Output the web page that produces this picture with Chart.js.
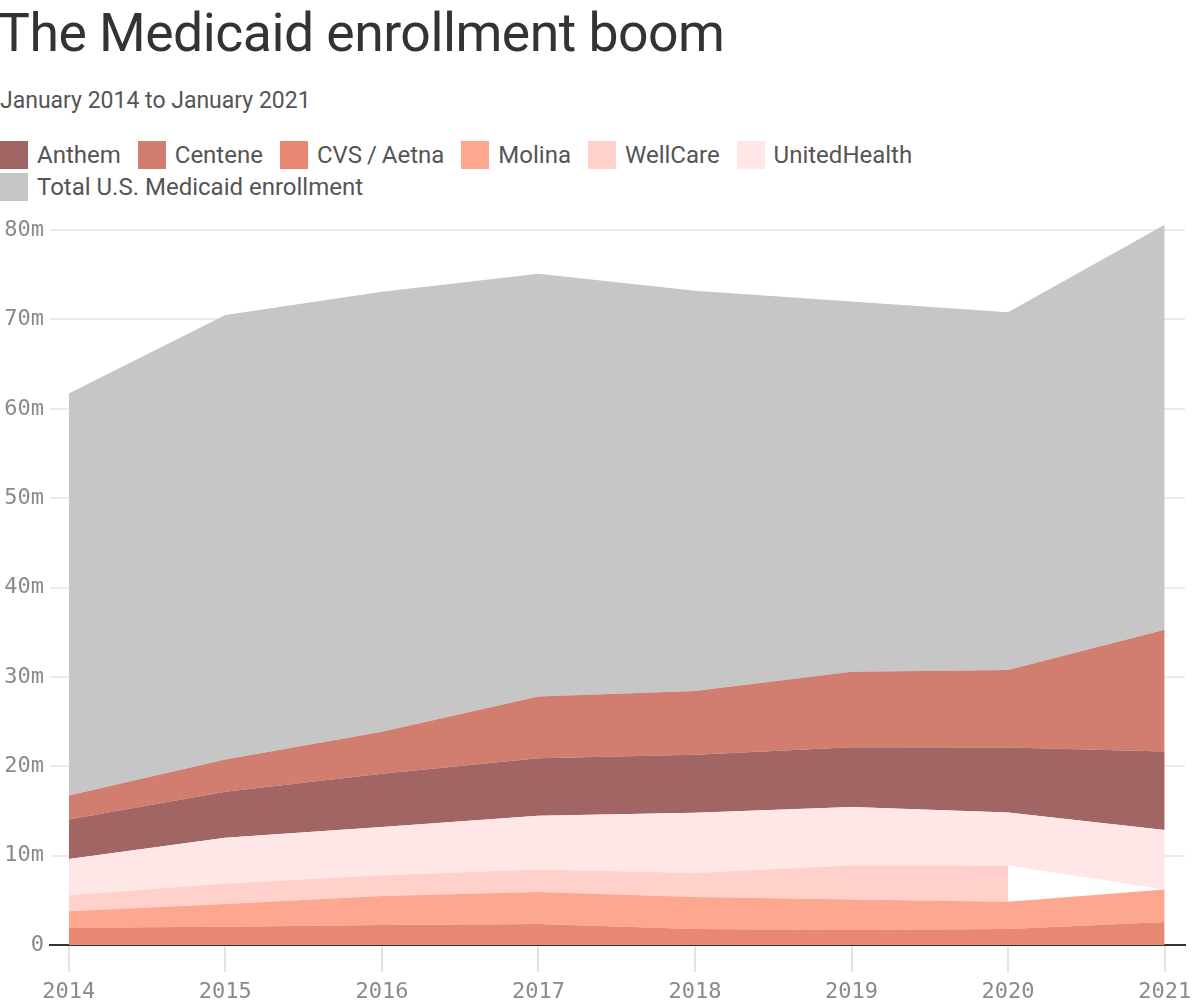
<!DOCTYPE html>
<html>
<head>
  <meta charset="utf-8" />
  <title>The Medicaid enrollment boom</title>
  <script src="https://cdn.jsdelivr.net/npm/chart.js"></script>
  <style>
    body { margin: 0; background: #fff; font-family: Roboto, "Noto Sans", sans-serif; }
    .wrap { position: relative; width: 1200px; height: 1000px; overflow: hidden; }
    h1 { position: absolute; left: -2px; top: 1px; margin: 0; font-size: 53.5px; font-weight: 400; color: #333; line-height: 64px; letter-spacing: -0.5px; }
    .sub { position: absolute; left: 0; top: 87px; font-size: 23px; color: #555; line-height: 28px; }
    .legend { position: absolute; left: 0; top: 141px; font-size: 24px; color: #555; }
    .row { display: flex; height: 32px; }
    .item { display: flex; align-items: center; margin-right: 17px; height: 28px; }
    .box { width: 28px; height: 28px; margin-right: 9px; }
    canvas { position: absolute; left: 0; top: 193px; }
  </style>

  <script type="module">
    const years = [2014, 2015, 2016, 2017, 2018, 2019, 2020, 2021];

    // millions of enrollees, January of each year
    const cvsAetna     = [1.93, 2.04, 2.23, 2.34, 1.78, 1.67, 1.79, 2.57];
    const molina       = [1.86, 2.54, 3.24, 3.58, 3.58, 3.43, 3.04, 3.65];
    const wellCare     = [1.79, 2.30, 2.34, 2.53, 2.71, 3.83, 4.06, 0];
    const unitedHealth = [4.05, 5.12, 5.39, 6.00, 6.73, 6.51, 5.95, 6.65];
    const anthem       = [4.40, 5.15, 5.96, 6.45, 6.50, 6.69, 7.26, 8.78];
    const centene      = [2.71, 3.61, 4.69, 6.90, 7.12, 8.45, 8.67, 13.62];
    const totalMedicaid = [61.7, 70.5, 73.1, 75.1, 73.2, 72.0, 70.8, 80.6];

    const yTicks = [0, 10, 20, 30, 40, 50, 60, 70, 80];

    const colors = {
      anthem: '#a16563',
      centene: '#d17d6f',
      cvs: '#e88873',
      molina: '#fda790',
      wellcare: '#ffd1ca',
      united: '#fee7e6',
      total: '#c6c6c6'
    };

    const legendItems = [
      ['Anthem', colors.anthem],
      ['Centene', colors.centene],
      ['CVS\u2009/\u2009Aetna', colors.cvs],
      ['Molina', colors.molina],
      ['WellCare', colors.wellcare],
      ['UnitedHealth', colors.united],
      ['Total U.S. Medicaid enrollment', colors.total]
    ];

    // build html legend (two rows like the original)
    const legend = document.getElementById('legend');
    let row;
    legendItems.forEach((it, i) => {
      if (i === 0 || i === 6) {
        row = document.createElement('div');
        row.className = 'row';
        legend.appendChild(row);
      }
      const item = document.createElement('div');
      item.className = 'item';
      item.innerHTML = `<span class="box" style="background:${it[1]}"></span><span>${it[0]}</span>`;
      row.appendChild(item);
    });

    function area(label, values, color, fill, stack = 'companies', extra = {}) {
      return {
        label: label,
        data: years.map((y, i) => ({ x: y, y: values[i] })),
        backgroundColor: color,
        borderWidth: 0,
        pointRadius: 0,
        fill: fill,
        stack: stack,
        tension: 0,
        ...extra
      };
    }

    const tickFont = { family: '"DejaVu Sans Mono", monospace', size: 22 };

    new Chart(document.getElementById('chart'), {
      type: 'line',
      data: {
        datasets: [
          area('CVS/Aetna', cvsAetna, colors.cvs, 'origin'),
          area('Molina', molina, colors.molina, '-1'),
          // WellCare folded into Centene in 2020, so nothing is drawn after that
          area('WellCare', wellCare, colors.wellcare, '-1', 'companies', {
            segment: {
              backgroundColor: ctx => wellCare[ctx.p1DataIndex] === 0 ? 'rgba(0,0,0,0)' : undefined
            }
          }),
          area('UnitedHealth', unitedHealth, colors.united, '-1'),
          area('Anthem', anthem, colors.anthem, '-1'),
          area('Centene', centene, colors.centene, '-1'),
          area('Total U.S. Medicaid enrollment', totalMedicaid, colors.total, '-1', 'total')
        ]
      },
      options: {
        responsive: false,
        animation: false,
        layout: { padding: { top: 0, right: 15, left: 0, bottom: 0 } },
        plugins: {
          legend: { display: false },
          tooltip: { enabled: false }
        },
        scales: {
          x: {
            type: 'linear',
            min: 2013.88,
            max: 2021.13,
            z: 1,
            afterBuildTicks: scale => { scale.ticks = years.map(v => ({ value: v })); },
            afterFit: scale => { scale.height = 55; },
            grid: {
              drawOnChartArea: false,
              drawTicks: true,
              tickLength: 27,
              color: '#e3e3e3',
              lineWidth: 2
            },
            border: { display: true, color: '#333', width: 2 },
            ticks: {
              font: tickFont,
              color: '#8a8a8a',
              padding: 7,
              maxRotation: 0,
              callback: v => String(v)
            }
          },
          y: {
            stacked: true,
            min: 0,
            max: 82,
            z: 1,
            afterBuildTicks: scale => { scale.ticks = yTicks.map(v => ({ value: v })); },
            afterFit: scale => { scale.width = 50; },
            grid: {
              color: 'rgba(0,0,0,0.08)',
              lineWidth: 2,
              drawTicks: false
            },
            border: { display: false },
            ticks: {
              font: tickFont,
              color: '#8a8a8a',
              padding: 6,
              callback: v => v === 0 ? '0' : v + 'm'
            }
          }
        }
      }
    });
  </script>
</head>
<body>
  <div class="wrap">
    <h1>The Medicaid enrollment boom</h1>
    <div class="sub">January 2014 to January 2021</div>
    <div class="legend" id="legend"></div>
    <canvas id="chart" width="1200" height="807"></canvas>
  </div>
</body>
</html>
